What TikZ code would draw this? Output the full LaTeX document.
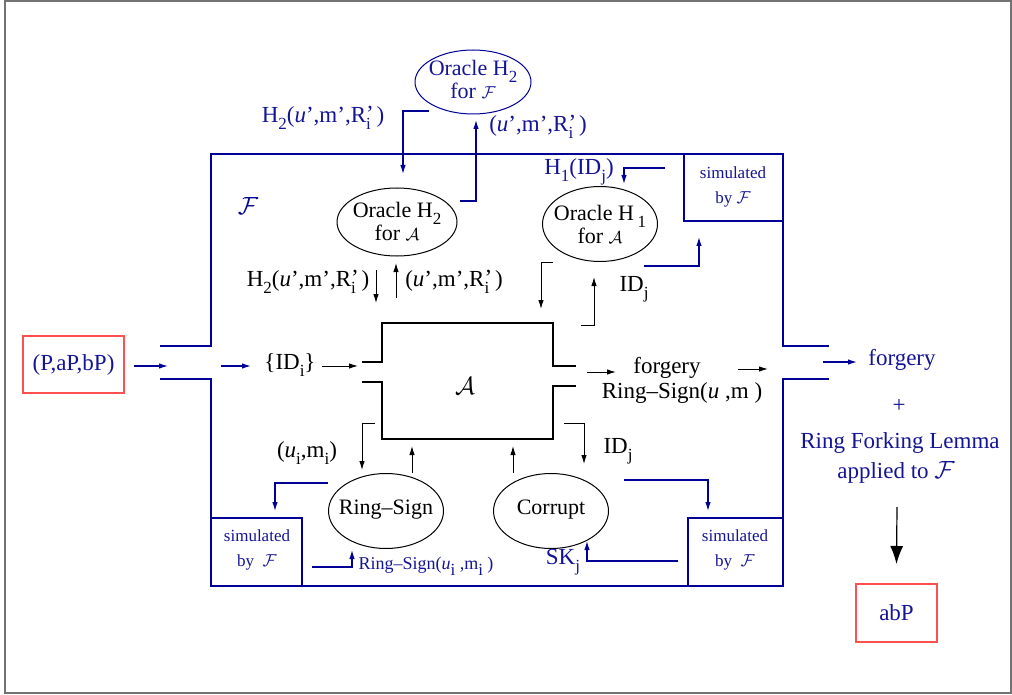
\documentclass[tikz,border=0pt]{standalone}
\usepackage{fontspec}
\setmainfont{Liberation Serif}
\usetikzlibrary{arrows.meta,shapes.geometric}
\definecolor{fb}{RGB}{0,0,150}
\definecolor{tb}{RGB}{20,20,150}
\definecolor{rb}{RGB}{255,80,80}
\newcommand{\lo}[1]{\raisebox{-0.32em}{\fontsize{17}{17}\selectfont #1}}
\newcommand{\Ri}{R\rlap{\raisebox{0.02em}{'}}\lo{i}}
\newcommand{\su}{\textit{u}}
\newcommand{\calF}{$\mathcal{F}$}
\newcommand{\calA}{$\mathcal{A}$}
\tikzset{
  fframe/.style={draw=fb, line width=2.6},
  abox/.style={draw=black, line width=2.6},
  barrow/.style={draw=fb, line width=1.2, -{Latex[length=9,width=5.5]}},
  karrow/.style={draw=black, line width=1, -{Latex[length=9,width=5.5]}},
  oval/.style={ellipse, draw, line width=1, inner sep=0},
  lbl/.style={inner sep=0, anchor=center},
  otxt/.style={inner sep=0, align=center, font=\fontsize{22}{23}\selectfont},
  simtxt/.style={inner sep=0, text=tb, font=\fontsize{17}{25}\selectfont, align=center},
  redbox/.style={draw=rb, line width=1.3, text=tb, inner sep=0},
}
\begin{document}
\begin{tikzpicture}[x=1pt,y=-1pt,font=\fontsize{23}{24}\selectfont]
\useasboundingbox (0,0) rectangle (1012,695);
\draw[black!55, line width=1.5] (5,1) rectangle (1011,693);

% frame F
\draw[fframe] (160,346) -- (211,346) -- (211,154) -- (783,154) -- (783,346) -- (829,346);
\draw[fframe] (160,379) -- (211,379) -- (211,586) -- (783,586) -- (783,379) -- (829,379);
\node[lbl, text=fb, font=\fontsize{30}{30}\selectfont] (fl) at (248,206) {\calF};

% simulated boxes
\draw[fframe] (684,154) -- (684,221) -- (783,221);
\node[simtxt] (s1) at (733,187) {simulated\\by \calF};
\draw[fframe] (212,518) -- (302,518) -- (302,586);
\node[simtxt] (s2) at (257,550) {simulated\\by \ \calF};
\draw[fframe] (688,586) -- (688,518) -- (782,518);
\node[simtxt] (s3) at (735,550) {simulated\\by \ \calF};

% adversary box
\draw[abox] (362,362) -- (382,362) -- (382,323) -- (553,323) -- (553,366) -- (576,366);
\draw[abox] (362,382) -- (382,382) -- (382,439) -- (553,439) -- (553,386) -- (576,386);
\node[lbl, font=\fontsize{34}{34}\selectfont] (A) at (465,386) {\calA};

% oracles
\node[oval, draw=fb, minimum width=116, minimum height=64] (ohf) at (473,82) {};
\node[otxt, text=tb] (ohft) at (473,79) {Oracle H\lo{2}\\for {\fontsize{16}{16}\selectfont\calF}};
\node[oval, minimum width=120, minimum height=68] (oh2) at (397,222) {};
\node[otxt] (oh2t) at (397,221) {Oracle H\lo{2}\\for {\fontsize{17}{17}\selectfont\calA}};
\node[oval, minimum width=115, minimum height=75] (oh1) at (600,224) {};
\node[otxt] (oh1t) at (600,224) {Oracle H\,\lo{1}\\for {\fontsize{17}{17}\selectfont\calA}};
\node[oval, minimum width=115, minimum height=75] (rs) at (386,511) {};
\node[otxt] (rst) at (386,510) {Ring--Sign};
\node[oval, minimum width=115, minimum height=75] (cor) at (551,511) {};
\node[otxt] (cort) at (551,510) {Corrupt};

% red boxes
\node[redbox, minimum width=101, minimum height=57] (pab) at (73.5,364.5) {(P,aP,bP)};
\node[redbox, minimum width=81, minimum height=58] (abp) at (896.5,613) {abP};

% top oracle arrows
\draw[barrow] (429,111) -- (403,111) -- (403,174);
\draw[barrow] (460,201) -- (476,201) -- (476,120);
\node[lbl, text=tb] (l1) at (323,118) {H\lo{2}(\su',m',\Ri\ )};
\node[lbl, text=tb] (l2) at (538,127) {(\su',m',\Ri\ )};

% H1 oracle
\node[lbl, text=tb] (l3) at (579,172) {H\lo{1}(ID\lo{j})};
\draw[barrow] (665,168) -- (624,168) -- (624,184);
\draw[barrow] (644,266) -- (699,266) -- (699,237);
\draw[karrow] (553,262) -- (541,262) -- (541,309);
\draw[karrow] (581,325) -- (594,325) -- (594,277);
\node[lbl] (l4) at (634,289) {ID\lo{j}};

% H2 oracle for A
\draw[karrow] (376,270) -- (376,303);
\draw[karrow] (396,298) -- (396,263);
\node[lbl] (l5) at (308,282) {H\lo{2}(\su',m',\Ri\ )};
\node[lbl] (l6) at (454,282) {(\su',m',\Ri\ )};

% input
\draw[barrow] (134,366) -- (168,366);
\draw[barrow] (221,366) -- (251,366);
\node[lbl] (l7) at (290,365) {\{ID\lo{i}\}};
\draw[karrow] (322,366) -- (358,366);

% output
\draw[karrow] (587,372) -- (616,372);
\node[lbl] (l8) at (667,368) {forgery};
\node[lbl] (l9) at (682,393) {Ring--Sign(\su\ ,m )};
\draw[karrow] (738,369) -- (768,369);
\draw[barrow] (823,362) -- (857,362);
\node[lbl, text=tb] (l10) at (902,360) {forgery};
\node[lbl, text=tb] (l11) at (899,406) {+};
\node[lbl, text=tb] (l12) at (900,443) {Ring Forking Lemma};
\node[lbl, text=tb] (l13) at (896,472) {applied to \calF};
\draw[draw=black, line width=1.2, -{Latex[length=18,width=13]}] (897,507) -- (abp.north |- 0,564);

% bottom
\draw[karrow] (375,423) -- (362,423) -- (362,470);
\node[lbl] (l14) at (307,453) {(\su\lo{i},m\lo{i})};
\draw[karrow] (412,473) -- (412,446);
\draw[karrow] (513,473) -- (513,446);
\draw[karrow] (564,423) -- (584,423) -- (584,464);
\node[lbl] (l15) at (618,451) {ID\lo{j}};

\draw[barrow] (328,483) -- (275,483) -- (275,511);
\draw[barrow] (312,567) -- (352,567) -- (352,550);
\node[lbl, text=tb, font=\fontsize{18}{18}\selectfont] (l16) at (426,566) {Ring--Sign(\su\lo{i} ,m\lo{i} )};
\draw[barrow] (624,480) -- (708,480) -- (708,511);
\draw[barrow] (678,561) -- (587,561) -- (587,541);
\node[lbl, text=tb] (l17) at (563,562) {SK\lo{j}};
\end{tikzpicture}
\end{document}
